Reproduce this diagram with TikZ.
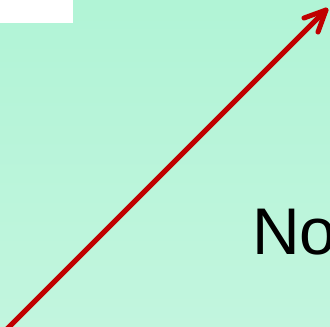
\documentclass[tikz,border=0pt]{standalone}
\usepackage{fontspec}
\setmainfont{Liberation Sans}
\usetikzlibrary{calc}
\definecolor{bgtop}{HTML}{B1F4D6}
\definecolor{bgbot}{HTML}{C2F5DE}
\definecolor{arrowred}{HTML}{C00000}
\tikzset{
  redline/.style={draw=arrowred, line width=5pt, line cap=round, line join=round},
  bigtext/.style={inner sep=0pt, anchor=base west, font=\fontsize{66pt}{70pt}\selectfont}
}
\begin{document}
\begin{tikzpicture}[x=1pt,y=-1pt]
\useasboundingbox (0,0) rectangle (330,327);
\clip (0,0) rectangle (330,327);
\shade[top color=bgtop, bottom color=bgbot] (0,0) rectangle (330,327);
\fill[white] (0,0) rectangle (73,23);
\node[bigtext] (no) at (252,254) {No};
\coordinate (s) at (6,330);
\coordinate (t) at (326,10);
\draw[redline] (s) -- (t);
\draw[redline] ($(t)+(-22,8)$) -- (t) -- ($(t)+(-8,22)$);
\end{tikzpicture}
\end{document}
